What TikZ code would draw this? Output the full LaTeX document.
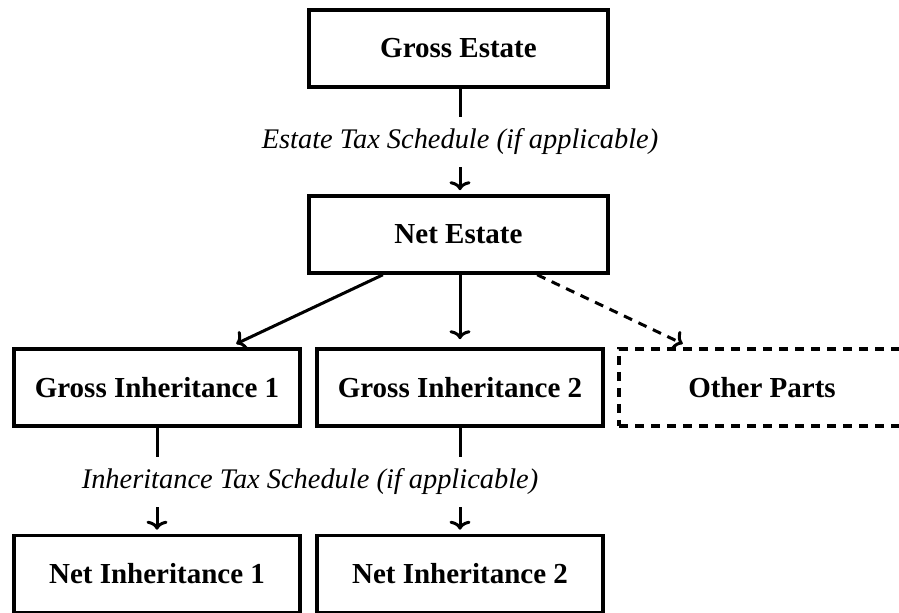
\documentclass[tikz,border=0pt]{standalone}
\usepackage{fontspec}
\setmainfont{Liberation Serif}
\usetikzlibrary{calc,arrows.meta}

\tikzset{
  stage/.style={draw, line width=1.8pt, minimum width=149.5pt, minimum height=38.5pt,
    font=\fontsize{14.5}{17}\selectfont\bfseries},
  share/.style={stage, minimum width=143pt},
  schedule/.style={inner xsep=0pt, inner ysep=6pt, font=\fontsize{14.2}{17}\selectfont\itshape},
  flow/.style={line width=1.5pt},
  maybe/.style={dash pattern=on 4.5pt off 3.5pt},
}

\begin{document}
\begin{tikzpicture}[x=0.5pt, y=-0.5pt, >={To[length=4.5pt,width=10.5pt]}]
    \useasboundingbox (0,0) rectangle (899,613);

    % Estate.
    \node[stage] (gross) at (458.5,48.5)  {Gross Estate};
    \node[stage] (net)   at (458.5,234.5) {Net Estate};
    \node[schedule] (estatetax) at (460,142) {Estate Tax Schedule (if applicable)};

    % Shares.
    \node[share] (grossone) at (157,387.5) {Gross Inheritance 1};
    \node[share] (grosstwo) at (460,387.5) {Gross Inheritance 2};
    \node[share, maybe] (other) at (762,387.5) {Other Parts};

    % Inheritances.
    \node[schedule] (inhtax) at (310,482) {Inheritance Tax Schedule (if applicable)};
    \node[share] (netone) at (157,574) {Net Inheritance 1};
    \node[share] (nettwo) at (460,574) {Net Inheritance 2};

    % Estate tax.
    \draw [flow] (gross.south -| estatetax) -- (estatetax.north);
    \draw [flow, ->, shorten >=2pt] (estatetax.south) -- (net.north -| estatetax);

    % Splitting the net estate.
    \draw [flow, ->, shorten >=4pt] ($(net.south west)!0.25!(net.south east)$) -- ([xshift=36pt]grossone.north);
    \draw [flow, ->, shorten >=4pt] (net.south -| grosstwo) -- (grosstwo.north);
    \draw [flow, maybe, ->, shorten >=4pt] ($(net.south west)!0.76!(net.south east)$) -- ([xshift=-36pt]other.north);

    % Inheritance tax.
    \draw [flow] (grossone.south) -- (grossone.south |- inhtax.north);
    \draw [flow, ->, shorten >=2pt] (grossone.south |- inhtax.south) -- (netone.north);
    \draw [flow] (grosstwo.south) -- (grosstwo.south |- inhtax.north);
    \draw [flow, ->, shorten >=2pt] (grosstwo.south |- inhtax.south) -- (nettwo.north);

\end{tikzpicture}
\end{document}
